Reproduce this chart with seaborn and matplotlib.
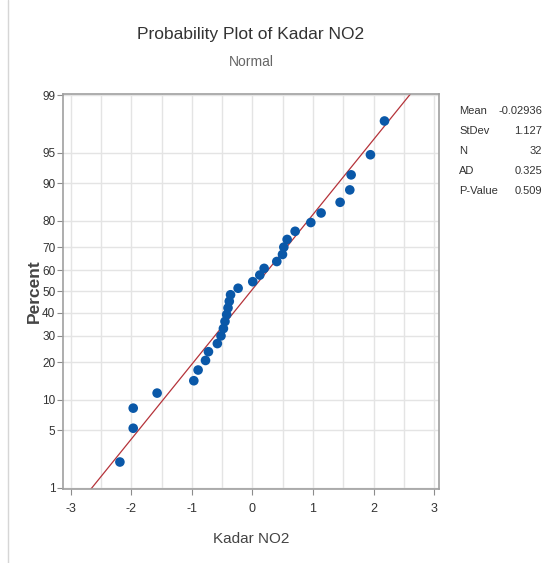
### Normal probability plot of Kadar NO2 ###

import numpy as np
import matplotlib
matplotlib.use("Agg")
import matplotlib.pyplot as plt
from matplotlib import font_manager
from statistics import NormalDist
import seaborn as sns

# data (sorted Kadar NO2 values)
kadar_no2 = [-2.19, -1.97, -1.97, -1.575, -0.969, -0.898, -0.776, -0.727,
             -0.58, -0.52, -0.48, -0.454, -0.426, -0.404, -0.383, -0.362,
             -0.237, 0.005, 0.121, 0.193, 0.402, 0.496, 0.518, 0.573,
             0.705, 0.964, 1.134, 1.448, 1.608, 1.630, 1.949, 2.181]

# summary table on the right
stat_names = ["Mean", "StDev", "N", "AD", "P-Value"]
stat_values = ["-0.02936", "1.127", "32", "0.325", "0.509"]
fit_mean = -0.02936
fit_sd = 1.127

pct_ticks = [1, 5, 10, 20, 30, 40, 50, 60, 70, 80, 90, 95, 99]
x_ticks = [-3, -2, -1, 0, 1, 2, 3]

# fonts - Minitab look is a narrow sans
installed = {f.name for f in font_manager.fontManager.ttflist}
narrow = "Liberation Sans"
for cand in ["Liberation Sans Narrow", "DejaVu Sans Condensed", "Liberation Sans"]:
    if cand in installed:
        narrow = cand
        break

sns.set_style("white")
plt.rcParams["font.family"] = [narrow, "DejaVu Sans"]

nd = NormalDist()
n = len(kadar_no2)
# median ranks (Benard) -> normal scores
ranks = np.arange(1, n + 1)
z_pts = [nd.inv_cdf((r - 0.3) / (n + 0.4)) for r in ranks]
z_line = np.array([-2.6, 2.6])

fig = plt.figure(figsize=(5.55, 5.63), dpi=100)
ax = fig.add_axes([63 / 555, 1 - 489 / 563, 376.5 / 555, 395 / 563])

# grid
for gx in np.arange(-3, 3.01, 0.5):
    ax.axvline(gx, color="#e4e4e4", lw=1, zorder=0)
for p in pct_ticks:
    ax.axhline(nd.inv_cdf(p / 100), color="#e4e4e4", lw=1, zorder=0)

sns.lineplot(x=fit_mean + fit_sd * z_line, y=z_line, sort=False,
             color="#b5333a", lw=0.9, ax=ax, zorder=2)
sns.scatterplot(x=kadar_no2, y=z_pts, color="#0a58a8", s=48,
                edgecolor="none", ax=ax, zorder=3)

ax.set_xlim(-3.13, 3.09)
ax.set_ylim(nd.inv_cdf(0.0096), nd.inv_cdf(0.9904))
ax.set_xticks(x_ticks)
ax.set_xticklabels([str(t) for t in x_ticks], fontsize=9, color="#333333")
ax.set_yticks([nd.inv_cdf(p / 100) for p in pct_ticks])
ax.set_yticklabels([str(p) for p in pct_ticks], fontsize=8.5, color="#333333")
ax.tick_params(axis="both", direction="out", length=4, width=0.8,
               color="#8c8c8c", pad=1.5, left=True, bottom=True)
ax.tick_params(axis="x", pad=6)

for s in ax.spines.values():
    s.set_color("#a0a0a0")
    s.set_linewidth(1.2)

ax.set_xlabel("Kadar NO2", fontsize=11, color="#444444")
ax.xaxis.set_label_coords(0.5, -43 / 395)
ax.set_ylabel("Percent", fontsize=12.5, color="#444444", fontweight="bold",
              family=["Liberation Sans", "DejaVu Sans"])
ax.yaxis.set_label_coords(-21 / 376.5, 0.5)

fig.text(251 / 555, 1 - 34 / 563, "Probability Plot of Kadar NO2",
         ha="center", va="center", fontsize=12.5, color="#333333")
fig.text(251 / 555, 1 - 62 / 563, "Normal", ha="center", va="center",
         fontsize=10, color="#666666")

# stats box
for i, (nm, val) in enumerate(zip(stat_names, stat_values)):
    y = 1 - (111 + 20 * i) / 563
    fig.text(459 / 555, y, nm, ha="left", va="center", fontsize=8, color="#333333")
    fig.text(542 / 555, y, val, ha="right", va="center", fontsize=8, color="#333333")

# thin frame line on the left of the window
fig.add_artist(plt.Line2D([7.5 / 555, 7.5 / 555], [0, 1], color="#d6d6d6", lw=1))

fig.savefig("out.png", dpi=100)
